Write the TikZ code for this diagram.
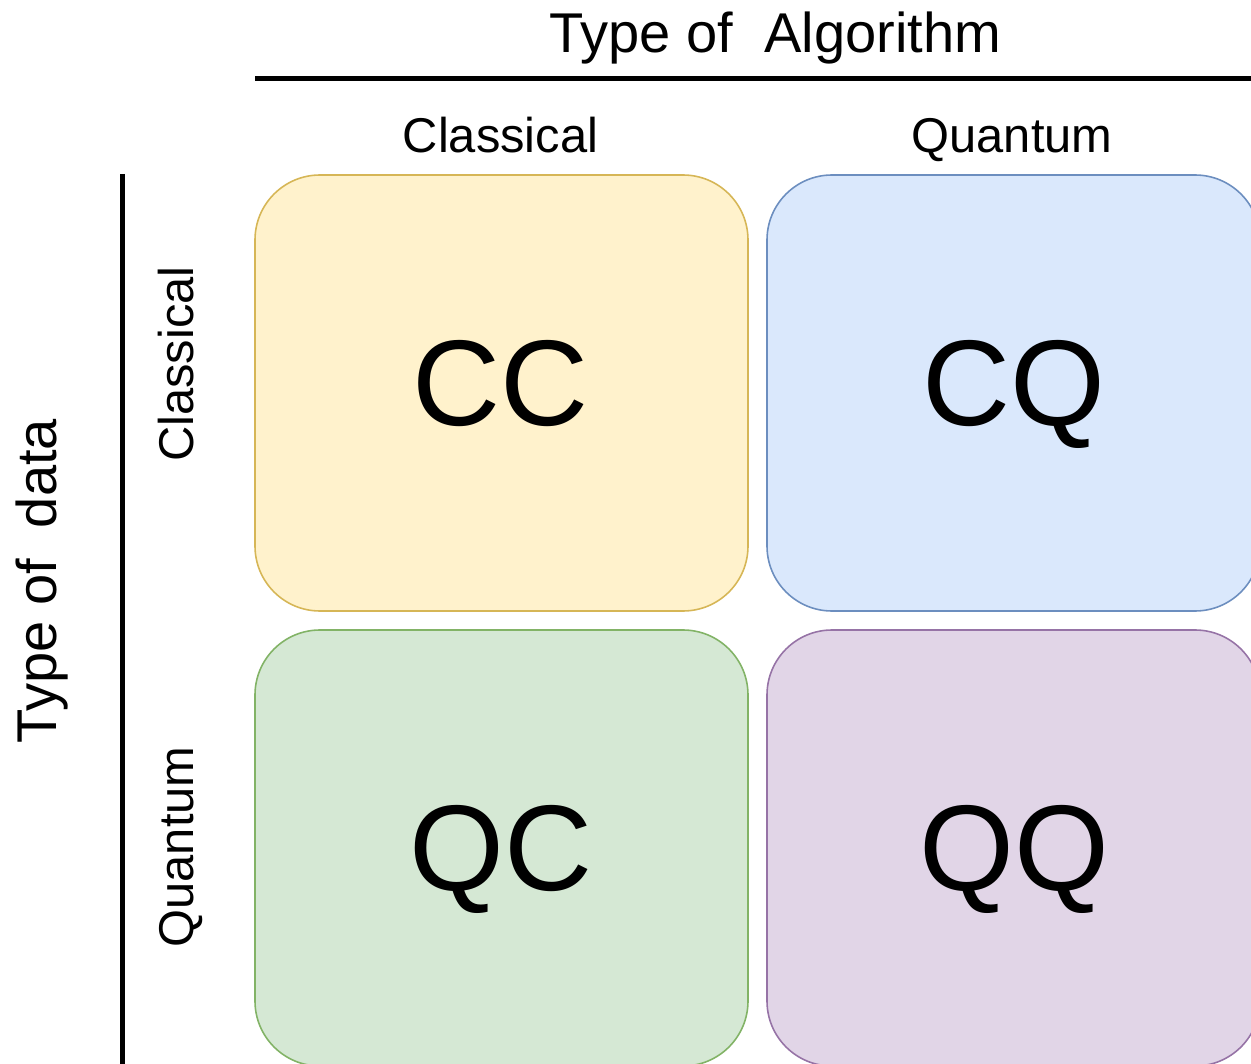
\documentclass[tikz,border=0pt]{standalone}
\usepackage{fontspec}
\setmainfont{Liberation Sans}
\definecolor{ccfill}{HTML}{FFF2CC}
\definecolor{ccline}{HTML}{D6B656}
\definecolor{cqfill}{HTML}{DAE8FC}
\definecolor{cqline}{HTML}{6C8EBF}
\definecolor{qcfill}{HTML}{D5E8D4}
\definecolor{qcline}{HTML}{82B366}
\definecolor{qqfill}{HTML}{E1D5E7}
\definecolor{qqline}{HTML}{9673A6}
\tikzset{
  cell/.style={rectangle, rounded corners=1.3cm, line width=0.9pt, minimum width=9.86cm, minimum height=8.72cm, inner sep=0pt},
  cellname/.style={font=\fontsize{69.4}{70}\selectfont, anchor=base, inner sep=0pt},
  axislabel/.style={font=\fontsize{31.9}{32}\selectfont, anchor=base, inner sep=0pt},
  sublabel/.style={font=\fontsize{27.8}{28}\selectfont, anchor=base, inner sep=0pt},
  axisrule/.style={line width=0.1cm}
}

\begin{document}
\begin{tikzpicture}
  % Page frame
  \useasboundingbox (0,0) rectangle (25.02,-21.28);
  \clip (0,0) rectangle (25.02,-21.28);

  % Axis rules
  \coordinate (algstart) at (5.1,-1.58);
  \coordinate (algend) at (25.02,-1.58);
  \draw[axisrule] (algstart) -- (algend);
  \coordinate (datastart) at (2.44,-3.48);
  \coordinate (dataend) at (2.44,-21.28);
  \draw[axisrule] (datastart) -- (dataend);

  % Quadrants
  \node[cell, fill=ccfill, draw=ccline] (cc) at (10.03,-7.86) {};
  \node[cell, fill=cqfill, draw=cqline] (cq) at (20.27,-7.86) {};
  \node[cell, fill=qcfill, draw=qcline] (qc) at (10.03,-16.96) {};
  \node[cell, fill=qqfill, draw=qqline] (qq) at (20.27,-16.96) {};

  % Quadrant names
  \node[cellname] (cctext) at (10.02,-8.5) {CC};
  \node[cellname] (cqtext) at (20.28,-8.5) {CQ};
  \node[cellname] (qctext) at (10.02,-17.8) {QC};
  \node[cellname] (qqtext) at (20.28,-17.8) {QQ};

  % Algorithm axis (top)
  \node[axislabel] (algtitle) at (15.51,-1.06) {Type of\ \ Algorithm};
  \node[sublabel] (algclassical) at (10.01,-3.06) {Classical};
  \node[sublabel] (algquantum) at (20.24,-3.06) {Quantum};

  % Data axis (left)
  \node[axislabel, rotate=90] (datatitle) at (1.14,-11.62) {Type of\ \ data};
  \node[sublabel, rotate=90] (dataclassical) at (3.86,-7.28) {Classical};
  \node[sublabel, rotate=90] (dataquantum) at (3.86,-16.94) {Quantum};
\end{tikzpicture}
\end{document}
